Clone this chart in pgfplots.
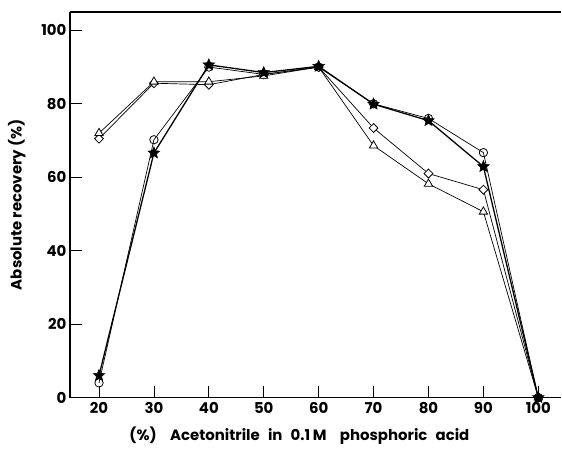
\documentclass[border=0pt]{standalone}
\usepackage{pgfplots}
\pgfplotsset{compat=1.18}
\usepackage{fontspec}
\setmainfont{Poppins}
\pgfdeclareplotmark{fivestar}{%
  \pgfpathmoveto{\pgfpointpolar{90}{\pgfplotmarksize}}%
  \pgfpathlineto{\pgfpointpolar{126}{0.45\pgfplotmarksize}}%
  \pgfpathlineto{\pgfpointpolar{162}{\pgfplotmarksize}}%
  \pgfpathlineto{\pgfpointpolar{198}{0.45\pgfplotmarksize}}%
  \pgfpathlineto{\pgfpointpolar{234}{\pgfplotmarksize}}%
  \pgfpathlineto{\pgfpointpolar{270}{0.45\pgfplotmarksize}}%
  \pgfpathlineto{\pgfpointpolar{306}{\pgfplotmarksize}}%
  \pgfpathlineto{\pgfpointpolar{342}{0.45\pgfplotmarksize}}%
  \pgfpathlineto{\pgfpointpolar{18}{\pgfplotmarksize}}%
  \pgfpathlineto{\pgfpointpolar{54}{0.45\pgfplotmarksize}}%
  \pgfpathclose
  \pgfusepathqfillstroke}
\newcommand{\ws}{\hspace{0.55em}}
\begin{document}
\begin{tikzpicture}
\begin{axis}[name=ax, scale only axis, width=492bp, height=386bp,
  xmin=14.7, xmax=104.2, ymin=0, ymax=105,
  axis lines*=left, clip=false,
  xtick={20,30,...,100}, ytick={0,20,...,100},
  tick align=inside, major tick length=12bp,
  tick style={black, line width=0.8pt},
  axis line style={line width=1.3pt},
  font=\fontsize{15}{17}\selectfont\bfseries,
  /pgf/number format/assume math mode=true,
  xlabel={(\%)\hspace{0.9em}Acetonitrile\ws in\ws 0.1\,M\hspace{0.9em}phosphoric\ws acid},
  ylabel={Absolute\ recovery\ (\%)},
  xlabel style={at={(axis description cs:0.467,-0.098)}, anchor=center},
  ylabel style={at={(axis description cs:-0.108,0.5)}, anchor=center},
  xticklabel style={yshift=-1bp},
  every axis plot/.append style={black, line width=0.7pt, mark size=4.2bp,
    mark options={solid, fill=white, line width=0.8pt}},
]
\addplot[mark=o] coordinates {(20,4) (30,70.2) (40,90) (50,88) (60,90) (70,80) (80,76) (90,66.7) (100,0)};
\addplot[mark=diamond*, mark size=4.5bp, mark options={solid, fill=white, line width=0.8pt, xscale=1.3}] coordinates {(20,70.5) (30,85.6) (40,85.2) (50,88) (60,90) (70,73.4) (80,61) (90,56.6) (100,0)};
\addplot[mark=triangle*, mark size=4.8bp] coordinates {(20,72) (30,86) (40,86) (50,87.6) (60,90) (70,68.6) (80,58.2) (90,50.6) (100,0)};
\addplot[line width=1.3pt, mark=fivestar, mark size=6bp, mark options={solid, fill=black, line width=0.6pt}] coordinates {(20,6) (30,66.6) (40,90.6) (50,88.5) (60,90.2) (70,79.9) (80,75.4) (90,62.9) (100,0)};
\draw[line width=1.3pt] (rel axis cs:0,1) -- (rel axis cs:1,1);
\end{axis}
\path ([shift={(-70bp,-62bp)}]ax.south west) rectangle ([shift={(0,12bp)}]ax.north east);
\end{tikzpicture}
\end{document}
